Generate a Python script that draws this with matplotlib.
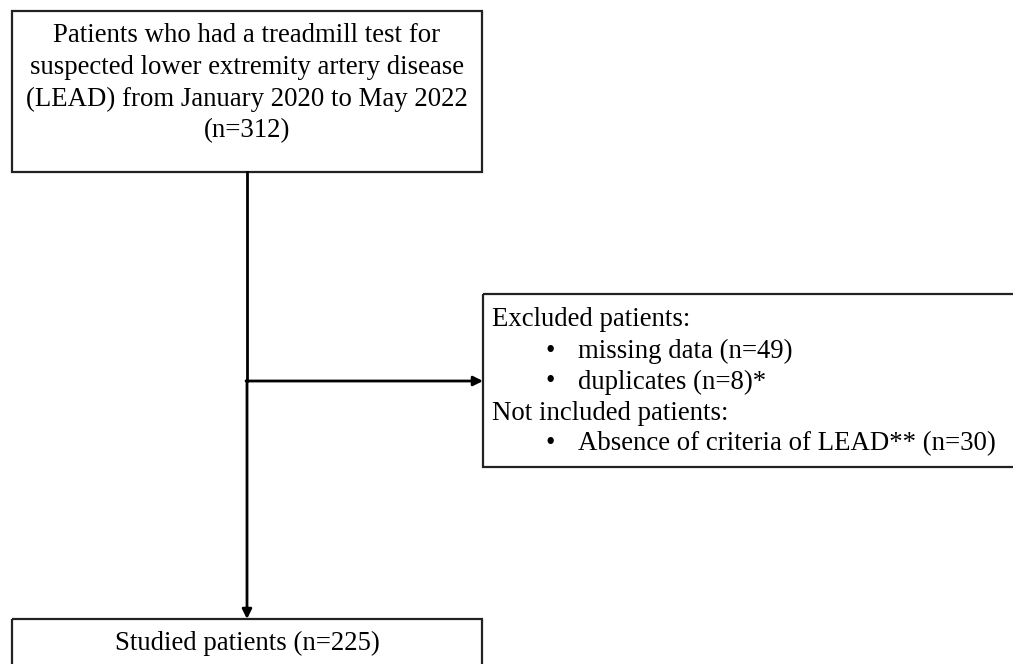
import matplotlib.pyplot as plt
from matplotlib.patches import Rectangle

# flowchart content
top_lines = [
    "Patients who had a treadmill test for",
    "suspected lower extremity artery disease",
    "(LEAD) from January 2020 to May 2022",
    "(n=312)",
]
excluded_header = "Excluded patients:"
excluded_items = ["missing data (n=49)", "duplicates (n=8)*"]
not_included_header = "Not included patients:"
not_included_items = ["Absence of criteria of LEAD** (n=30)"]
bottom_text = "Studied patients (n=225)"

plt.rcParams['font.family'] = ['Liberation Serif', 'DejaVu Serif']

fig = plt.figure(figsize=(10.13, 6.64), dpi=100)
ax = fig.add_axes([0, 0, 1, 1])
ax.set_xlim(0, 1013)
ax.set_ylim(664, 0)
ax.axis('off')

lw = 1.6
fs = 19.3

# top box
ax.add_patch(Rectangle((12, 11), 470, 161, fill=False, lw=lw, ec='#222222'))
for i, line in enumerate(top_lines):
    ax.text(247, 36 + i * 31.7, line, ha='center', va='center', fontsize=fs)

# right box
ax.add_patch(Rectangle((483, 294), 540, 173, fill=False, lw=lw, ec='#222222'))
rows = [(excluded_header, False)] + [(t, True) for t in excluded_items] + \
       [(not_included_header, False)] + [(t, True) for t in not_included_items]
for i, (txt, bullet) in enumerate(rows):
    y = 320 + i * 31
    if bullet:
        ax.text(550, y, "\u2022", ha='center', va='center', fontsize=fs)
        ax.text(578, y, txt, ha='left', va='center', fontsize=fs)
    else:
        ax.text(492, y, txt, ha='left', va='center', fontsize=fs)

# bottom box
ax.add_patch(Rectangle((12, 619), 470, 80, fill=False, lw=lw, ec='#222222'))
ax.text(247, 643, bottom_text, ha='center', va='center', fontsize=fs)

# connectors
arrow = dict(arrowstyle='-|>', lw=2, color='black', mutation_scale=14,
             shrinkA=0, shrinkB=0)
ax.plot([247, 247], [172, 381], color='black', lw=2)
ax.annotate('', xy=(247, 619), xytext=(247, 380), arrowprops=arrow)
ax.annotate('', xy=(483, 381), xytext=(246, 381), arrowprops=arrow)

fig.savefig('out.png', dpi=100)
